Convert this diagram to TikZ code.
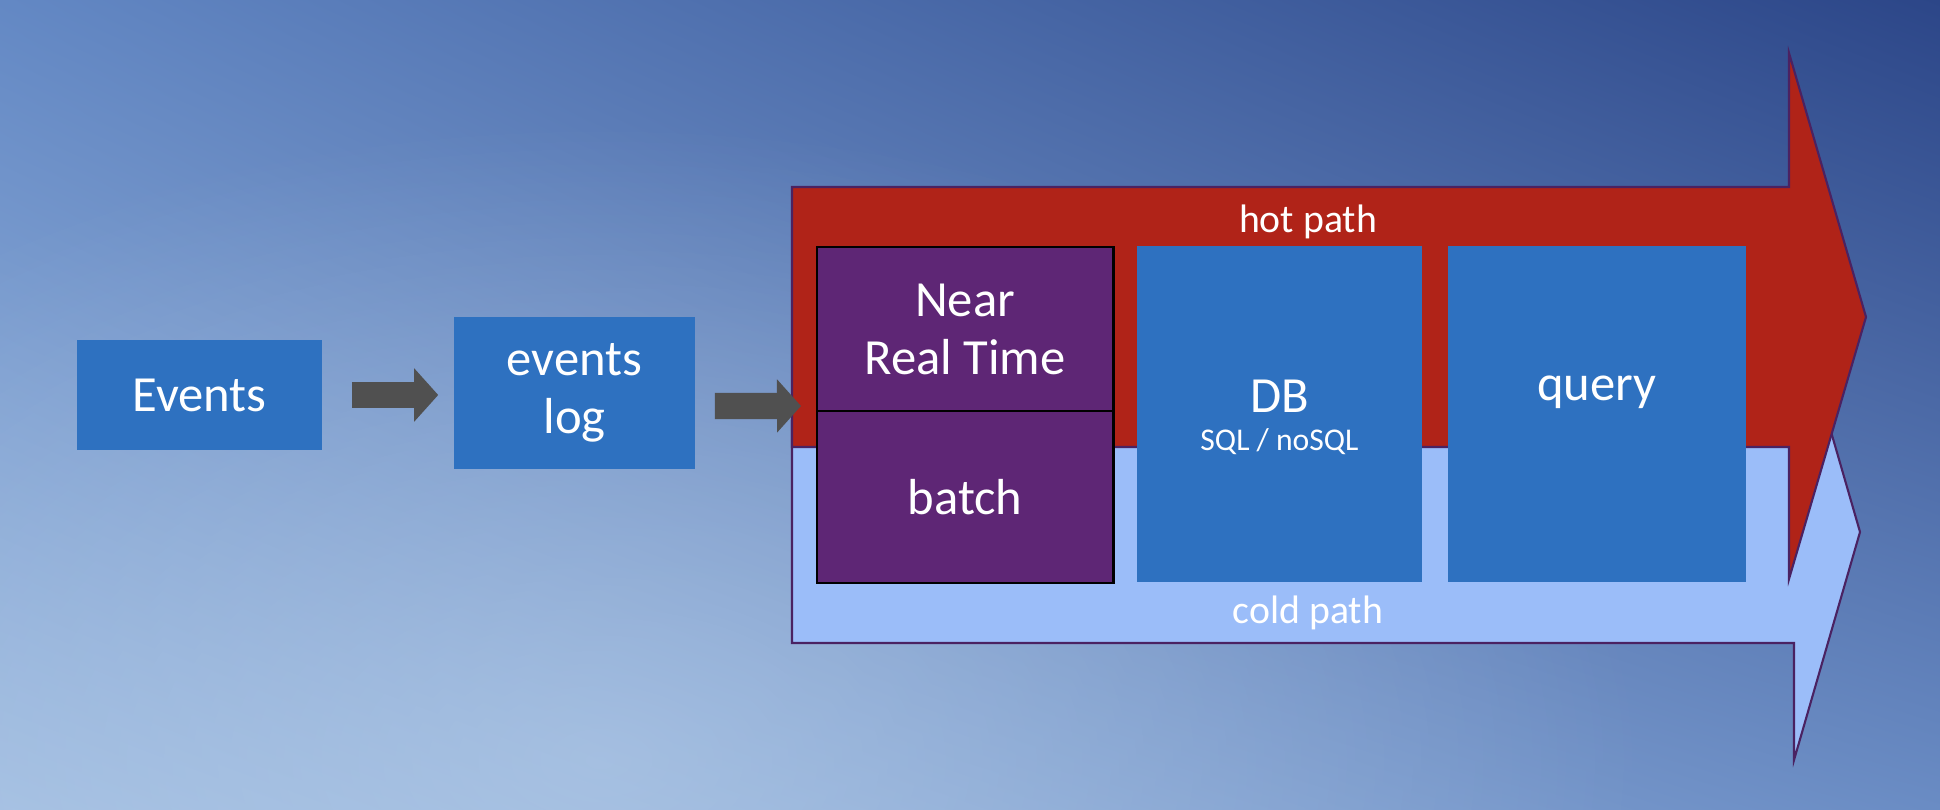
\documentclass[tikz,border=0pt]{standalone}
\usepackage{fontspec}
\setmainfont{Carlito}
\usetikzlibrary{arrows.meta,fadings,shadings}

\definecolor{bgul}{HTML}{6388C4}
\definecolor{bgur}{HTML}{2C4688}
\definecolor{bgll}{HTML}{A0BCE0}
\definecolor{bglr}{HTML}{6A8CC4}
\definecolor{bgglow}{HTML}{C4DAF0}
\definecolor{boxblue}{HTML}{2E71C0}
\definecolor{nrtpurple}{HTML}{5E2675}
\definecolor{hotred}{HTML}{B02318}
\definecolor{coldblue}{HTML}{9BBDF9}
\definecolor{edgepurple}{HTML}{4A2262}
\definecolor{arrowgray}{HTML}{505050}

\tikzfading[name=glow, inner color=transparent!0, outer color=transparent!100]

\begin{document}
\begin{tikzpicture}[x=0.01cm,y=-0.01cm,
	box/.style={fill=boxblue,text=white,align=center,inner sep=0pt,font=\fontsize{14.4}{16.5}\selectfont},
	purplebox/.style={box,fill=nrtpurple,draw=black,line width=0.8pt},
	plain/.style={text=white,align=center,inner sep=0pt,font=\fontsize{14.4}{16.5}\selectfont},
	pathshape/.style={draw=edgepurple,line width=0.6pt,line join=miter},
	pathtext/.style={text=white,inner sep=0pt,font=\fontsize{11.3}{13}\selectfont},
	flow/.style={arrowgray,line width=0.26cm,-{Triangle[length=0.24cm,width=0.52cm]}}]
	%background
	\useasboundingbox (0,0) rectangle (1940,810);
	\shade[upper left=bgul,upper right=bgur,lower left=bgll,lower right=bglr] (0,0) rectangle (1940,810);
	\fill[bgglow,opacity=0.45,path fading=glow] (600,760) ellipse (1050 and 640);
	%% cold path arrow first, hot path arrow over it
	\fill[coldblue] (792,421) -- (1794,421) -- (1794,304) -- (1860,532) -- (1794,760) -- (1794,643) -- (792,643) -- cycle;
	\draw[pathshape] (792,421) -- (1794,421) -- (1794,304) -- (1860,532) -- (1794,760) -- (1794,643) -- (792,643) -- cycle;
	\fill[hotred] (792,187) -- (1789,187) -- (1789,53) -- (1866,317) -- (1789,579) -- (1789,447) -- (792,447) -- cycle;
	\draw[pathshape] (792,187) -- (1789,187) -- (1789,53) -- (1866,317) -- (1789,579) -- (1789,447) -- (792,447) -- cycle;
	\node[pathtext] (hot) at (1308,222) {hot path};
	\node[pathtext] (cold) at (1308,613) {cold path};
	%% boxes
	\node[box,minimum width=2.45cm,minimum height=1.10cm] (events) at (199.5,395) {Events};
	\node[box,minimum width=2.41cm,minimum height=1.52cm] (log) at (574.5,393) {events\\log};
	\node[purplebox,minimum width=2.96cm,minimum height=1.64cm] (nrt) at (965,329) {Near\\Real Time};
	\node[purplebox,minimum width=2.96cm,minimum height=1.72cm] (batch) at (965,497) {batch};
	\node[box,minimum width=2.85cm,minimum height=3.36cm] (db) at (1279.5,414) {};
	\node[box,minimum width=2.98cm,minimum height=3.36cm] (query) at (1597,414) {};
	\node[plain] (dbtext) at ([yshift=0.18cm]db.center) {DB};
	\node[plain,font=\fontsize{9}{11}\selectfont] (sqltext) at ([yshift=-0.28cm]db.center) {SQL / noSQL};
	\node[plain] (querytext) at ([yshift=0.22cm]query.center) {query};
	%% gray arrows
	\coordinate (hotin) at (801,406);
	\draw[flow] ([xshift=0.29cm]events.east) -- ([xshift=-0.15cm]events.east -| log.west);
	\draw[flow] ([shift={(0.19cm,-0.13cm)}]log.east) -- (hotin);
\end{tikzpicture}
\end{document}
